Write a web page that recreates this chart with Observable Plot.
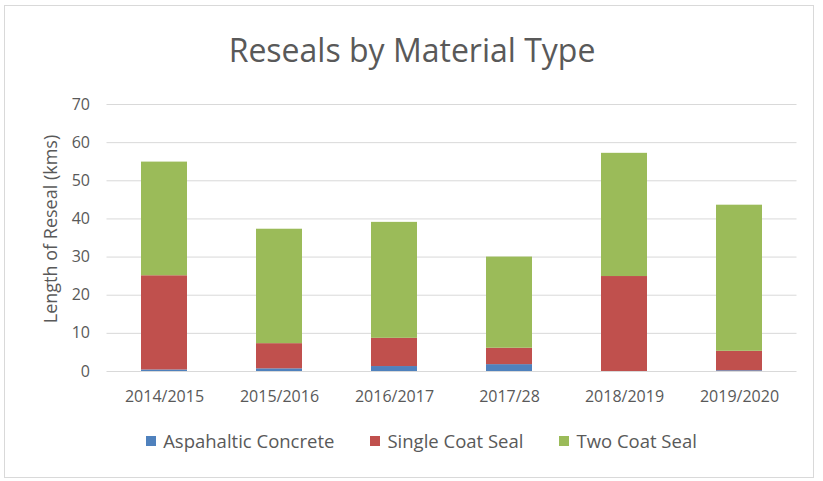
<!DOCTYPE html>
<html>
<head>
<meta charset="utf-8">
<script src="https://cdn.jsdelivr.net/npm/d3@7"></script>
<script src="https://cdn.jsdelivr.net/npm/@observablehq/plot@0.6"></script>
<style>
  html, body { margin: 0; padding: 0; background: #fff; }
  #wrap { position: relative; width: 823px; height: 481px; font-family: "Open Sans", sans-serif; color: #595959; }
  #frame { position: absolute; left: 4px; top: 5px; width: 810px; height: 473px; border: 1px solid #D9D9D9; box-sizing: border-box; }
  #chart { position: absolute; left: 0; top: 0; }
  #legend { position: absolute; left: 0; width: 843px; top: 428px; display: flex; justify-content: center; gap: 36px; font-size: 18.5px; line-height: 26px; }
  #legend .item { display: flex; align-items: center; gap: 7px; }
  #legend .sw { width: 10px; height: 10px; display: inline-block; }
</style>
</head>
<body>
<div id="wrap">
  <div id="frame"></div>
  <div id="chart"></div>
  <div id="legend"></div>
</div>
<script>
const years = ["2014/2015", "2015/2016", "2016/2017", "2017/28", "2018/2019", "2019/2020"];
const seriesNames = ["Aspahaltic Concrete", "Single Coat Seal", "Two Coat Seal"];
const asphalticConcrete = [0.4, 0.7, 1.3, 1.8, 0, 0.2];
const singleCoatSeal = [24.7, 6.6, 7.4, 4.3, 24.9, 5.1];
const twoCoatSeal = [29.8, 30.0, 30.4, 23.9, 32.3, 38.3];
const yTicks = [0, 10, 20, 30, 40, 50, 60, 70];
const colors = ["#4F81BD", "#C0504D", "#9BBB59"];
const titleText = "Reseals by Material Type";
const yLabel = "Length of Reseal (kms)";

const seriesValues = [asphalticConcrete, singleCoatSeal, twoCoatSeal];
const data = [];
seriesNames.forEach((name, si) => {
  years.forEach((yr, i) => data.push({ year: yr, type: name, value: seriesValues[si][i] }));
});

const W = 823, H = 481;
const chart = Plot.plot({
  width: W,
  height: H,
  marginTop: 104,
  marginBottom: 110,
  marginLeft: 106.5,
  marginRight: 26.5,
  style: { fontFamily: "'Open Sans', sans-serif", fontSize: "16px", color: "#595959", background: "transparent" },
  x: { domain: years, paddingInner: 0.6, paddingOuter: 0.3, label: null },
  y: { domain: [0, 70], label: null },
  color: { domain: seriesNames, range: colors },
  marks: [
    Plot.gridY(yTicks, { stroke: "#D9D9D9", strokeOpacity: 1, strokeWidth: 1 }),
    Plot.barY(data, { x: "year", y: "value", fill: "type", order: seriesNames }),
    Plot.axisY(yTicks, { tickSize: 0, tickPadding: 17, label: null, fontSize: 16, fill: "#595959" }),
    Plot.axisX({ tickSize: 0, tickPadding: 19, label: null, fontSize: 16, fill: "#595959" })
  ]
});

const svg = d3.select(chart);
svg.append("text")
  .attr("x", 412).attr("y", 62)
  .attr("text-anchor", "middle")
  .attr("fill", "#595959")
  .style("font-size", "32px")
  .style("font-family", "'Open Sans', sans-serif")
  .text(titleText);
svg.append("text")
  .attr("transform", "translate(57,229) rotate(-90)")
  .attr("text-anchor", "middle")
  .attr("fill", "#595959")
  .style("font-size", "18px")
  .style("font-family", "'Open Sans', sans-serif")
  .text(yLabel);

document.getElementById("chart").appendChild(chart);

const legend = d3.select("#legend");
seriesNames.forEach((name, i) => {
  const it = legend.append("div").attr("class", "item");
  it.append("span").attr("class", "sw").style("background", colors[i]);
  it.append("span").text(name);
});
</script>
</body>
</html>
